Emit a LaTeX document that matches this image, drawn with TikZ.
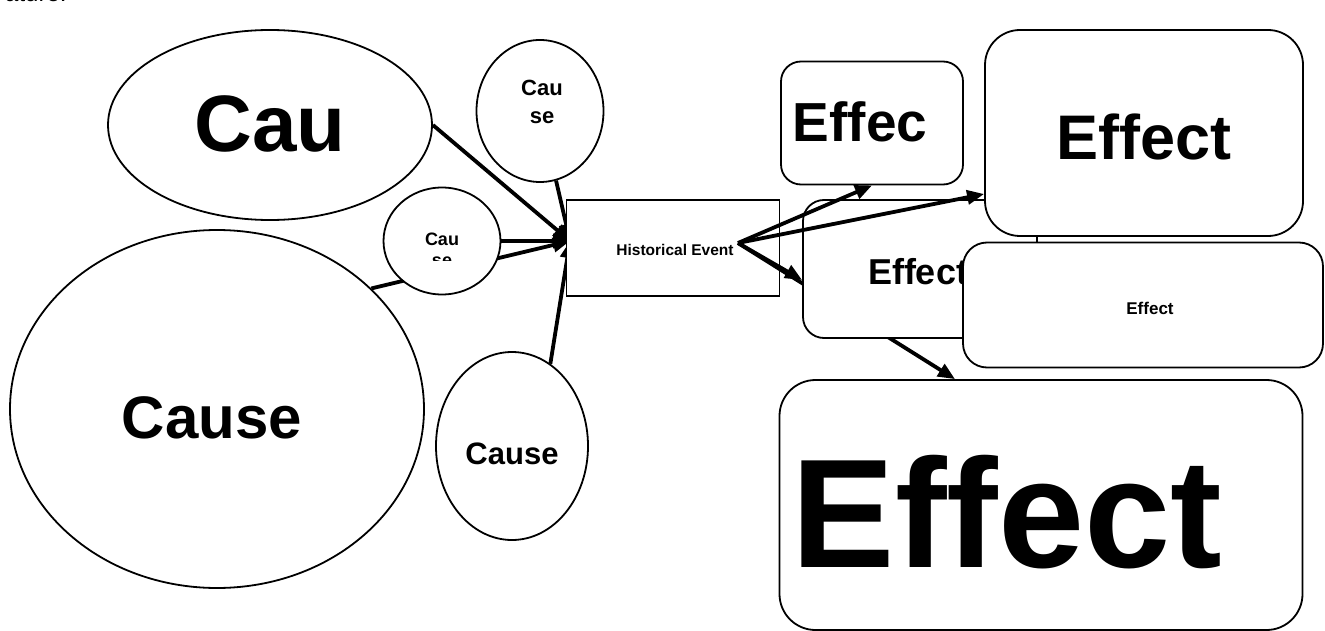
\documentclass[tikz,border=0pt]{standalone}
\usepackage{fontspec}
\setmainfont{Liberation Sans}
\usetikzlibrary{arrows.meta,shapes.geometric}
\tikzset{
  causeell/.style={draw, line width=1.8pt, fill=white, ellipse, inner sep=0pt},
  effbox/.style={draw, line width=1.8pt, fill=white, rectangle, inner sep=0pt},
  evbox/.style={draw, line width=1.4pt, fill=white, rectangle, inner sep=0pt},
  arr/.style={line width=3.8pt, -{Triangle[length=17pt,width=14pt]}},
  lbl/.style={font=\bfseries, inner sep=0pt},
}
\newcommand{\fsz}[1]{\fontsize{#1}{#1}\selectfont}
\begin{document}
\begin{tikzpicture}[x=1pt,y=-1pt]
\useasboundingbox (0,0) rectangle (1325,631);
% caption cut off at the top edge
\node[anchor=base west, inner sep=0pt, font=\fsz{24}] (cap) at (5,2) {ature:};
% left-hand causes
\node[causeell, minimum width=414pt, minimum height=358pt] (D) at (217,409) {};
\node[lbl, font=\bfseries\fsz{60}] (Dt) at (212,418) {Cause};
\node[causeell, minimum width=324pt, minimum height=190pt] (A) at (270,125) {};
\node[lbl, font=\bfseries\fsz{80}] (At) at (270,124) {Cau};
\node[causeell, minimum width=127pt, minimum height=142pt] (B) at (540,111) {};
\node[lbl, font=\bfseries\fsz{22}, align=center] (Bt) at (542,102) {Cau\\[6pt]se};
\node[causeell, minimum width=152pt, minimum height=188pt] (E) at (512,446) {};
\node[lbl, font=\bfseries\fsz{31}] (Et) at (512,454) {Cause};
\coordinate (hub) at (570,241);
\draw[arr] (A.east) -- (hub);
\draw[arr] (B) -- (hub);
\draw[arr] (D.38.7) -- (hub);
\draw[arr] (E.65) -- (hub);
\node[causeell, minimum width=117pt, minimum height=107pt] (C) at (442,241) {};
\node[lbl, font=\bfseries\fsz{18}] (Ct) at (442,239) {Cau};
\begin{scope}
\clip (400,248) rectangle (480,260);
\node[lbl, font=\bfseries\fsz{18}] (Cs) at (442,262) {se};
\end{scope}
\draw[arr] (C.east) -- (hub);
% historical event
\node[evbox, minimum width=213pt, minimum height=96pt] (H) at (673,248) {};
\node[lbl, font=\bfseries\fsz{15.5}] (Ht) at (675,250) {Historical Event};
\coordinate (ev) at (738,243);
% effects
\node[effbox, rounded corners=36pt, minimum width=523pt, minimum height=250pt] (E5) at (1041,505) {};
\node[lbl, font=\bfseries\fsz{155}] (E5t) at (1007,512) {Effect};
\draw[arr] (ev) -- ([xshift=-86pt]E5.north);
\node[effbox, rounded corners=21pt, minimum width=234pt, minimum height=138pt] (E3) at (920,269) {};
\node[lbl, font=\bfseries\fsz{36}] (E3t) at (918,272) {Effect};
\node[effbox, rounded corners=20pt, minimum width=182pt, minimum height=123pt] (E1) at (872,123) {};
\node[lbl, font=\bfseries\fsz{55}] (E1t) at (860,122) {Effec};
\draw[arr] (ev) -- ([yshift=-11pt]E3.west);
\draw[arr] (ev) -- (E1.south);
\node[effbox, rounded corners=35pt, minimum width=318pt, minimum height=206pt] (E2) at (1144,133) {};
\node[lbl, font=\bfseries\fsz{63}] (E2t) at (1144,137) {Effect};
\draw[arr] (ev) -- ([yshift=-61pt]E2.west);
\node[effbox, rounded corners=24pt, minimum width=360pt, minimum height=125pt] (E4) at (1143,305) {};
\node[lbl, font=\bfseries\fsz{17}] (E4t) at (1150,308) {Effect};
\end{tikzpicture}
\end{document}
